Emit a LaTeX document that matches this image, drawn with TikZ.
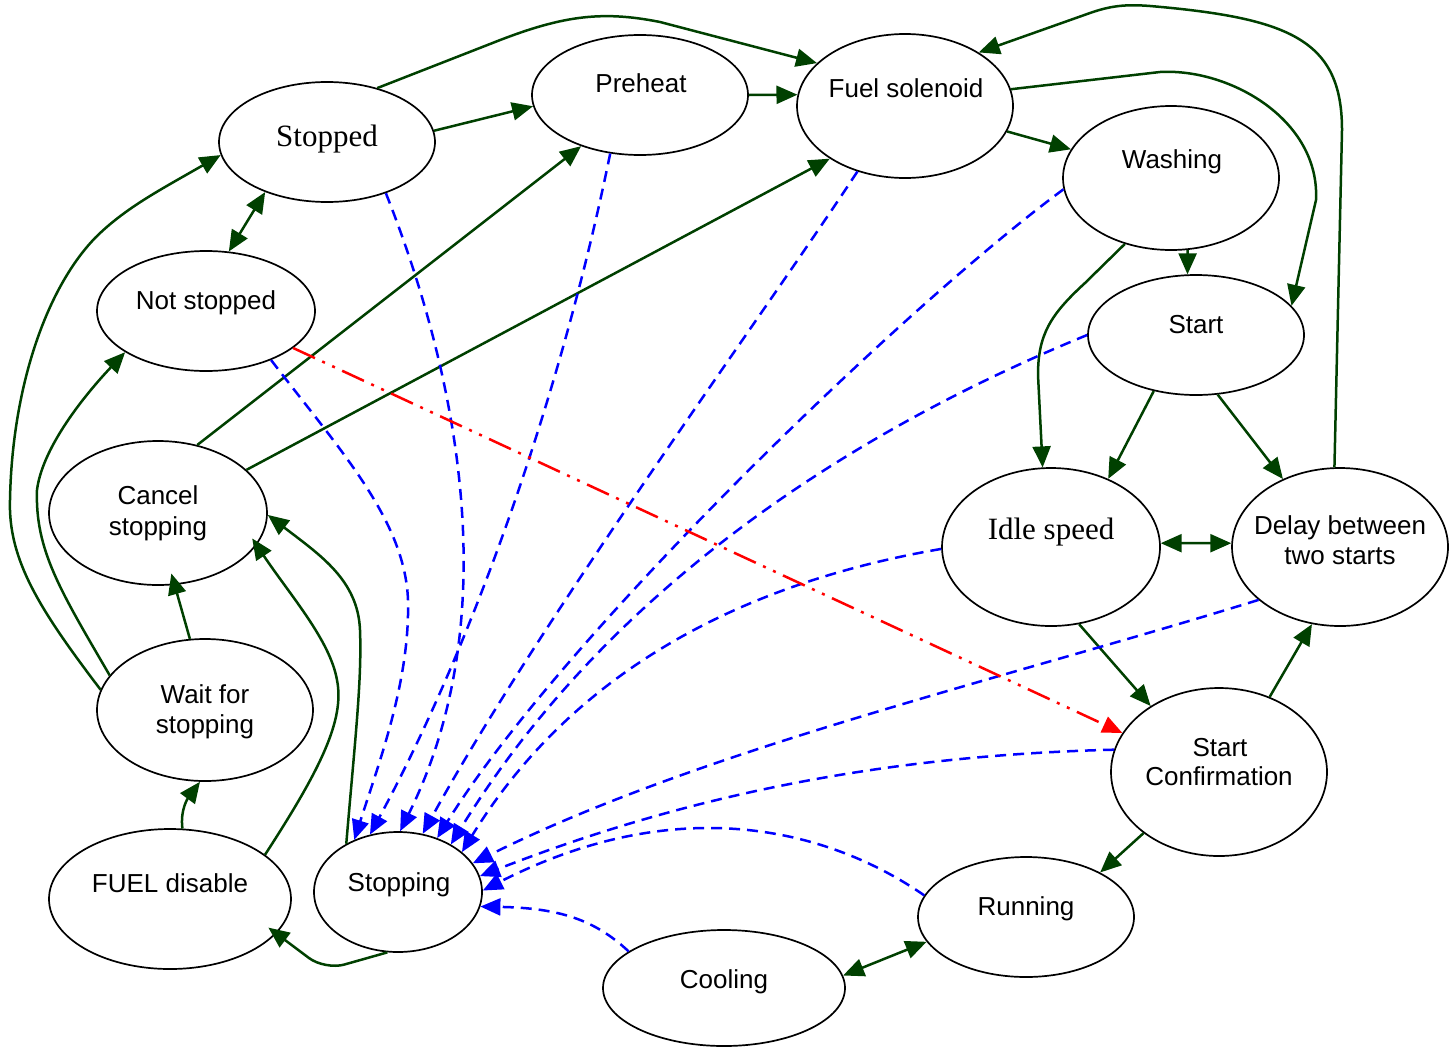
\documentclass[tikz,border=0pt]{standalone}
\usepackage{fontspec}
\setmainfont{Liberation Sans}
\newfontfamily\serifface{Liberation Serif}
\usetikzlibrary{shapes.geometric,arrows.meta}
\definecolor{dgreen}{RGB}{0,64,0}
\begin{document}
\begin{tikzpicture}[x=1pt,y=-1pt,
 st/.style={ellipse,draw,line width=1.7pt,inner sep=0pt},
 lbl/.style={anchor=base,inner sep=0pt,font=\fontsize{26}{31}\selectfont},
 slbl/.style={anchor=base,inner sep=0pt,font=\fontsize{31}{36}\selectfont\serifface},
 gtip/.tip={Triangle[length=21pt 0,width=18pt 0]},
 btip/.tip={Triangle[length=20pt 0,width=17pt 0]},
 gr/.style={draw=dgreen,line width=2.5pt,-gtip},
 grb/.style={draw=dgreen,line width=2.5pt,gtip-gtip},
 bl/.style={draw=blue,line width=2.5pt,dash pattern=on 11pt off 7pt,-btip},
 rd/.style={draw=red,line width=2.5pt,dash pattern=on 24pt off 8pt on 3pt off 8pt on 3pt off 8pt,-btip},
]
\useasboundingbox (0,0) rectangle (1450,1047);
% states
\node[st,minimum width=216pt,minimum height=120pt] (stopped) at (327,142) {};
\node[st,minimum width=216pt,minimum height=120pt] (preheat) at (640,95) {};
\node[st,minimum width=216pt,minimum height=144pt] (fuel) at (905,106) {};
\node[st,minimum width=216pt,minimum height=144pt] (washing) at (1171,178) {};
\node[st,minimum width=216pt,minimum height=120pt] (start) at (1196,335) {};
\node[st,minimum width=218pt,minimum height=120pt] (notst) at (206,311) {};
\node[st,minimum width=218pt,minimum height=144pt] (cancel) at (158,513) {};
\node[st,minimum width=218pt,minimum height=158pt] (idle) at (1051,547) {};
\node[st,minimum width=216pt,minimum height=158pt] (delay) at (1340,547) {};
\node[st,minimum width=216pt,minimum height=142pt] (wait) at (205,710) {};
\node[st,minimum width=216pt,minimum height=168pt] (conf) at (1219,772) {};
\node[st,minimum width=242pt,minimum height=140pt] (fueld) at (170,899) {};
\node[st,minimum width=168pt,minimum height=120pt] (stopping) at (398,892) {};
\node[st,minimum width=216pt,minimum height=120pt] (running) at (1026,917) {};
\node[st,minimum width=242pt,minimum height=116pt] (cooling) at (724,988) {};
% labels
\node[slbl] (tstopped) at (327,146) {Stopped};
\node[lbl] (tpreheat) at (641,92) {Preheat};
\node[lbl] (tfuel) at (906,97) {Fuel solenoid};
\node[lbl] (twash) at (1172,168) {Washing};
\node[lbl] (tstart) at (1196,333) {Start};
\node[lbl] (tnot) at (206,309) {Not stopped};
\node[lbl] (tcan1) at (158,504) {Cancel};
\node[lbl] (tcan2) at (158,535) {stopping};
\node[slbl] (tidle) at (1051,539) {Idle speed};
\node[lbl] (tdel1) at (1340,534) {Delay between};
\node[lbl] (tdel2) at (1340,564) {two starts};
\node[lbl] (twait1) at (205,703) {Wait for};
\node[lbl] (twait2) at (205,733) {stopping};
\node[lbl] (tconf1) at (1220,756) {Start};
\node[lbl] (tconf2) at (1219,785) {Confirmation};
\node[lbl] (tfd) at (170,892) {FUEL disable};
\node[lbl] (tstopping) at (399,891) {Stopping};
\node[lbl] (trun) at (1026,915) {Running};
\node[lbl] (tcool) at (724,988) {Cooling};
% green transitions
\draw[gr] (stopped.6) -- (preheat.186);
\draw[gr] (stopped.47) -- (490,44) .. controls (560,16) and (600,10) .. (660,22) -- (fuel.154);
\draw[gr] (preheat.0) -- (fuel.174);
\draw[gr] (fuel.-14) -- (washing.164.5);
\draw[gr] (fuel.9) -- (1160,72) .. controls (1230,68) and (1320,120) .. (1316,200) -- (start.17);
\draw[gr] (delay.94) -- (1342,130) .. controls (1342,40) and (1290,18) .. (1150,6) .. controls (1125,4) and (1110,6) .. (1090,13) -- (fuel.36);
\draw[gr] (washing.-77.3) -- (start.98.6);
\draw[gr] (washing.235.5) -- (1085,283) .. controls (1050,315) and (1038,335) .. (1038,375) -- (idle.96);
\draw[gr] (start.233) -- (idle.50.4);
\draw[gr] (start.-70) -- (delay.130);
\draw[grb] (idle.2) -- (delay.178);
\draw[gr] (idle.-70.6) -- (conf.136.3);
\draw[gr] (conf.56.5) -- (delay.250.6);
\draw[gr] (conf.219.7) -- (running.31.3);
\draw[grb] (running.194.3) -- (cooling.6.3);
\draw[grb] (stopped.219) -- (notst.69.5);
\draw[gr] (cancel.60.7) -- (preheat.221.3);
\draw[gr] (cancel.26.3) -- (fuel.215.8);
\draw[gr,shorten >=-12pt] (wait.102) -- (cancel.283.5);
\draw[gr] (wait.160.7) .. controls (60,590) and (35,550) .. (37,490) .. controls (42,450) and (80,400) .. (notst.207.7);
\draw[gr] (wait.169.4) .. controls (40,610) and (8,560) .. (10,500) .. controls (12,390) and (45,290) .. (95,238) .. controls (125,208) and (160,190) .. (stopped.187.6);
\draw[gr] (fueld.80) .. controls (180,810) and (188,798) .. (wait.266);
\draw[gr,shorten >=-8pt] (fueld.25.3) .. controls (320,770) and (345,720) .. (337,680) .. controls (330,640) and (290,595) .. (cancel.-18.4);
\draw[gr] (stopping.137.3) .. controls (355,740) and (362,680) .. (360,630) .. controls (358,580) and (320,555) .. (cancel.-1);
\draw[gr,rounded corners=20pt,shorten >=-10pt] (stopping.260.5) -- (325,970) -- (fueld.-18.4);
% blue transitions to Stopping
\draw[bl] (notst.-37) .. controls (340,450) and (405,520) .. (408,600) .. controls (410,680) and (380,760) .. (stopping.130.7);
\draw[bl] (preheat.243.4) .. controls (560,400) and (470,650) .. (stopping.116.6);
\draw[bl] (stopped.-41.8) .. controls (460,380) and (505,620) .. (stopping.88);
\draw[bl] (fuel.234) .. controls (760,320) and (540,620) .. (stopping.67);
\draw[bl] (washing.186.6) .. controls (900,310) and (560,640) .. (stopping.54.7);
\draw[bl] (start.180) .. controls (880,420) and (620,570) .. (stopping.42);
\draw[bl] (idle.181) .. controls (760,580) and (580,660) .. (stopping.32.5);
\draw[bl] (delay.213.5) .. controls (1000,680) and (700,750) .. (stopping.21.3);
\draw[bl] (conf.168) .. controls (900,755) and (700,790) .. (stopping.11.4);
\draw[bl] (running.168.5) .. controls (830,830) and (680,790) .. (stopping.1.3);
\draw[bl] (cooling.159.6) .. controls (595,920) and (560,908) .. (stopping.-10.8);
% red transition
\draw[rd] (notst.-23.2) -- (conf.158.5);
\end{tikzpicture}
\end{document}
